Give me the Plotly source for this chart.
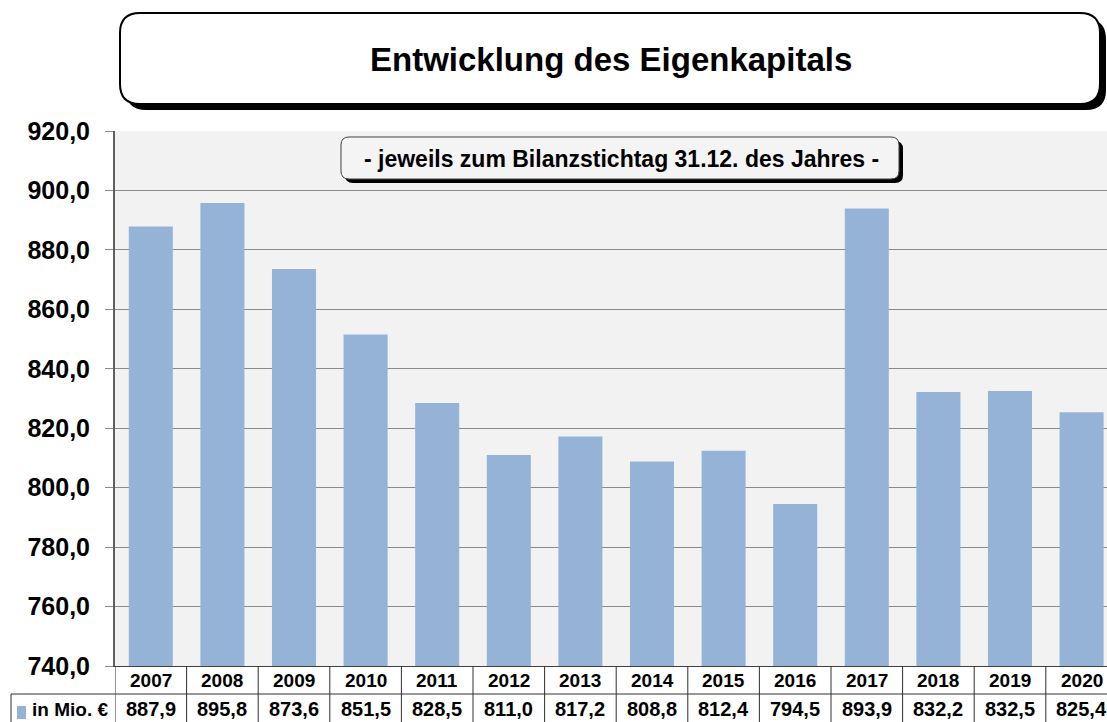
import plotly.graph_objects as go

years = ["2007", "2008", "2009", "2010", "2011", "2012", "2013",
         "2014", "2015", "2016", "2017", "2018", "2019", "2020"]
equity = [887.9, 895.8, 873.6, 851.5, 828.5, 811.0, 817.2,
          808.8, 812.4, 794.5, 893.9, 832.2, 832.5, 825.4]
series_name = "in Mio. €"
title_text = "Entwicklung des Eigenkapitals"
subtitle_text = "- jeweils zum Bilanzstichtag 31.12. des Jahres -"
y_ticks = [740, 760, 780, 800, 820, 840, 860, 880, 900, 920]

W, H = 1107, 722
L, R, T, B = 115, 0, 131, 56
PW, PH = W - L - R, H - T - B
FONT = "Liberation Sans, Arial, sans-serif"
BAR = "#95b3d7"


def px(x):
    return (x - L) / PW


def py(y):
    return (H - B - y) / PH


def rrect(x0, y0, x1, y1, r):
    pts = [
        ("M", x0 + r, y0), ("L", x1 - r, y0), ("Q", x1, y0, x1, y0 + r),
        ("L", x1, y1 - r), ("Q", x1, y1, x1 - r, y1), ("L", x0 + r, y1),
        ("Q", x0, y1, x0, y1 - r), ("L", x0, y0 + r), ("Q", x0, y0, x0 + r, y0),
    ]
    s = ""
    for p in pts:
        cmd = p[0]
        coords = p[1:]
        parts = []
        for i in range(0, len(coords), 2):
            parts.append(f"{px(coords[i]):.5f},{py(coords[i+1]):.5f}")
        s += cmd + " ".join(parts) + " "
    return s + "Z"


fig = go.Figure()
fig.add_trace(go.Bar(x=years, y=equity, marker=dict(color=BAR, line=dict(width=0)),
                     name=series_name, showlegend=False, hoverinfo="x+y"))

shapes = []
annotations = []

# Title box with shadow
shapes.append(dict(type="path", xref="paper", yref="paper",
                   path=rrect(126, 19, 1106, 110, 20), fillcolor="black",
                   line=dict(width=0), layer="above"))
shapes.append(dict(type="path", xref="paper", yref="paper",
                   path=rrect(120, 13, 1100, 104, 20), fillcolor="white",
                   line=dict(color="black", width=2), layer="above"))
annotations.append(dict(text=f"<b>{title_text}</b>", xref="paper", yref="paper",
                        x=px(611), y=py(60), showarrow=False,
                        font=dict(family=FONT, size=33, color="black"),
                        xanchor="center", yanchor="middle"))

# Subtitle box with shadow
shapes.append(dict(type="path", xref="paper", yref="paper",
                   path=rrect(345, 141, 903, 183, 8), fillcolor="black",
                   line=dict(width=0), layer="above"))
shapes.append(dict(type="path", xref="paper", yref="paper",
                   path=rrect(341, 137, 899, 179, 8), fillcolor="#f4f4f4",
                   line=dict(color="#404040", width=1), layer="above"))
annotations.append(dict(text=f"<b>{subtitle_text}</b>", xref="paper", yref="paper",
                        x=px(621), y=py(159), showarrow=False,
                        font=dict(family=FONT, size=23, color="black"),
                        xanchor="center", yanchor="middle"))

# Data table
line_col = "#303030"
n = len(years)
for i in range(n + 1):
    shapes.append(dict(type="line", xref="x", yref="paper",
                       x0=i - 0.5, x1=i - 0.5, y0=py(666), y1=py(722),
                       line=dict(color=line_col, width=1)))
shapes.append(dict(type="line", xref="paper", yref="paper",
                   x0=px(11), x1=1.0, y0=py(694), y1=py(694),
                   line=dict(color=line_col, width=1)))
shapes.append(dict(type="line", xref="paper", yref="paper",
                   x0=px(11), x1=px(11), y0=py(694), y1=py(722),
                   line=dict(color=line_col, width=1)))
# legend key square
shapes.append(dict(type="rect", xref="paper", yref="paper",
                   x0=px(17), x1=px(26), y0=py(719), y1=py(706),
                   fillcolor=BAR, line=dict(width=0)))
annotations.append(dict(text=f"<b>{series_name}</b>", xref="paper", yref="paper",
                        x=px(30), y=py(709), showarrow=False, xanchor="left",
                        yanchor="middle",
                        font=dict(family=FONT, size=19, color="black")))

for i, (yr, v) in enumerate(zip(years, equity)):
    annotations.append(dict(text=f"<b>{yr}</b>", xref="x", yref="paper", x=i,
                            y=py(681), showarrow=False, xanchor="center",
                            yanchor="middle",
                            font=dict(family=FONT, size=19, color="black")))
    annotations.append(dict(text="<b>" + f"{v:.1f}".replace(".", ",") + "</b>",
                            xref="x", yref="paper", x=i,
                            y=py(709), showarrow=False, xanchor="center",
                            yanchor="middle",
                            font=dict(family=FONT, size=20, color="black")))

fig.update_layout(
    width=W, height=H,
    margin=dict(l=L, r=R, t=T, b=B, pad=0),
    paper_bgcolor="white",
    plot_bgcolor="#f2f2f2",
    separators=",.",
    bargap=0.385,
    shapes=shapes,
    annotations=annotations,
    xaxis=dict(type="category", range=[-0.5, -0.5 + PW / 71.6],
               showticklabels=False, ticks="", showgrid=False,
               showline=True, linecolor="#404040", linewidth=1, zeroline=False,
               fixedrange=True),
    yaxis=dict(range=[740, 920], tickvals=y_ticks, tickformat=".1f",
               showgrid=True, gridcolor="#8a8a8a", gridwidth=1.3,
               showline=True, linecolor="#606060", linewidth=2,
               ticks="outside", ticklen=8, tickcolor="#8a8a8a", tickwidth=1.3,
               tickfont=dict(family=FONT, size=25, color="black", weight="bold"),
               ticklabelstandoff=10, zeroline=False, fixedrange=True),
    showlegend=False,
)

fig.write_html("out.html", config={"displayModeBar": False},
               post_script="document.body.style.margin='0';document.body.style.overflow='hidden';")
